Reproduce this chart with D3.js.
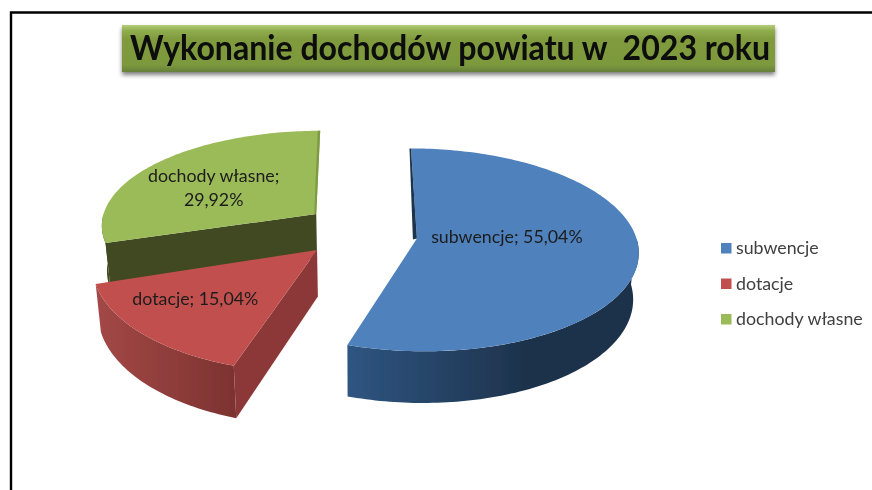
<!DOCTYPE html>
<html>
<head>
<meta charset="utf-8">
<style>
  html, body { margin: 0; padding: 0; background: #fff; overflow: hidden; }
  text { font-family: Lato, "Open Sans", sans-serif; }
</style>
<script src="https://d3js.org/d3.v7.min.js"></script>
</head>
<body>
<svg id="chart" width="872" height="490"></svg>
<script>
const categories = ['subwencje', 'dotacje', 'dochody własne'];
const values = [55.04, 15.04, 29.92];
const valueLabels = ['55,04%', '15,04%', '29,92%'];
const titleText = 'Wykonanie dochodów powiatu w  2023 roku';

const topColors = ['#4f81bd', '#c0504d', '#9bbb59'];
const wallLeft = ['#2f5581', '#a34846', '#3f4920'];
const wallRight = ['#1d324b', '#7d3331', '#3f4920'];
const faceColors = ['#1f3550', '#8d3937', '#3f4920'];

// floor plane seen in perspective, worked out from the slice edges
const VANISH_X = 358;
const VANISH_Y = -660;
const PLANE = 900;
const DEPTH = 1890;
const WALL = 46;
const WALL_LEAN = 0.98;

// where each pulled-out slice has its tip on the plane, and its reach
const tips = [[59, 3], [-40.5, -20.7], [-43, 56]];
const reachX = [220, 220, 219];
const reachZ = [211, 222, 205];
const labelFrac = [0.41, 0.71, 0.63];
const labelLift = [-8, -8, 7];

const svg = d3.select('#chart');
const defs = svg.append('defs');
const soft = defs.append('filter').attr('id', 'soft')
  .attr('filterUnits', 'userSpaceOnUse')
  .attr('x', 0).attr('y', 0)
  .attr('width', 872).attr('height', 490);
soft.append('feGaussianBlur').attr('stdDeviation', 0.55);

const root = svg.append('g').attr('filter', 'url(#soft)');
root.append('rect').attr('width', 872).attr('height', 490).attr('fill', '#fff');

// frame, cut off by the right and bottom of the picture
root.append('path')
  .attr('d', 'M11,492V12.5H874')
  .attr('fill', 'none')
  .attr('stroke', '#000')
  .attr('stroke-width', 2.4);

const color = d3.scaleOrdinal().domain(categories).range(topColors);

function project(X, Z, low) {
  const scale = 1 / (1 + Z / DEPTH);
  const k = low ? WALL_LEAN : 1;
  return [
    VANISH_X + X * scale * k,
    VANISH_Y + (PLANE + (low ? WALL : 0)) * scale,
  ];
}

function rim(i, angle, r, low) {
  return project(
    tips[i][0] + r * reachX[i] * Math.sin(angle),
    tips[i][1] + r * reachZ[i] * Math.cos(angle),
    low
  );
}

const line = d3.line();
const slices = d3.pie().sort(null)(values);

function arcPoints(i, a0, a1, low) {
  const n = Math.max(2, Math.ceil((a1 - a0) / 0.02));
  return d3.range(n + 1).map((j) => rim(i, a0 + (a1 - a0) * j / n, 1, low));
}

function wallGradient(i, x0, x1) {
  const g = defs.append('linearGradient')
    .attr('id', `wall${i}`)
    .attr('gradientUnits', 'userSpaceOnUse')
    .attr('x1', x0).attr('x2', x1).attr('y1', 0).attr('y2', 0);
  g.append('stop').attr('offset', 0).attr('stop-color', wallLeft[i]);
  g.append('stop').attr('offset', 1).attr('stop-color', wallRight[i]);
}

// painted back to front: green, red, blue
[2, 1, 0].forEach((i) => {
  const d = slices[i];
  const group = root.append('g').attr('class', 'slice').attr('data-name', categories[i]);

  const from = Math.max(d.startAngle, Math.PI / 2);
  const to = Math.min(d.endAngle, Math.PI * 1.5);
  const upper = arcPoints(i, from, to, false);
  const lower = arcPoints(i, from, to, true);
  const xs = upper.map((p) => p[0]);
  wallGradient(i, d3.min(xs), i === 0 ? VANISH_X + 170 : d3.max(xs));

  group.append('path')
    .attr('d', line(upper.concat(lower.reverse())) + 'Z')
    .attr('fill', `url(#wall${i})`);

  const apex = rim(i, 0, 0, false);

  // cut face toward the viewer: red and green show theirs
  if (i > 0) {
    const outer = rim(i, d.startAngle, 1, false);
    const outerLow = rim(i, d.startAngle, 1, true);
    const apexLow = rim(i, 0, 0, true);
    group.append('path')
      .attr('d', line([apex, outer, outerLow, apexLow]) + 'Z')
      .attr('fill', faceColors[i]);
  }

  group.append('path')
    .attr('d', line([apex].concat(arcPoints(i, d.startAngle, d.endAngle, false))) + 'Z')
    .attr('fill', color(categories[i]));

  // thin sliver along the back cut of blue and green
  if (i === 0) {
    const p = rim(i, d.startAngle, 1, false);
    group.append('path')
      .attr('d', line([p, apex, [apex[0] - 4, apex[1] + 1], [p[0] - 1.5, p[1]]]) + 'Z')
      .attr('fill', faceColors[0]);
  }
  if (i === 2) {
    const p = rim(i, d.endAngle, 1, false);
    group.append('path')
      .attr('d', line([p, apex, [apex[0] - 2, apex[1]], [p[0] - 2.5, p[1]]]) + 'Z')
      .attr('fill', '#7d9a45');
  }
});

// data labels
const labelLines = [
  [`${categories[0]}; ${valueLabels[0]}`],
  [`${categories[1]}; ${valueLabels[1]}`],
  [`${categories[2]};`, valueLabels[2]],
];
slices.forEach((d, i) => {
  const mid = (d.startAngle + d.endAngle) / 2;
  const p = rim(i, mid, labelFrac[i], false);
  const text = root.append('text')
    .attr('text-anchor', 'middle')
    .attr('font-size', 17.8)
    .attr('fill', '#1c1c1c');
  labelLines[i].forEach((t, j) => {
    text.append('tspan')
      .attr('x', p[0])
      .attr('y', p[1] + labelLift[i] + 6 + (j - (labelLines[i].length - 1) / 2) * 24)
      .text(t);
  });
});

// title box
const titleFill = defs.append('linearGradient').attr('id', 'titleFill')
  .attr('x1', 0).attr('x2', 0).attr('y1', 0).attr('y2', 1);
[[0, '#b4cd7e'], [0.12, '#90ad4e'], [0.3, '#7f9b3d'], [0.85, '#7d993c'], [1, '#66803a']]
  .forEach(([o, c]) => titleFill.append('stop').attr('offset', o).attr('stop-color', c));
const shadow = defs.append('filter').attr('id', 'titleShadow')
  .attr('x', '-5%').attr('y', '-20%').attr('width', '110%').attr('height', '150%');
shadow.append('feDropShadow')
  .attr('dx', 0).attr('dy', 3).attr('stdDeviation', 2)
  .attr('flood-color', '#000').attr('flood-opacity', 0.5);

root.append('rect')
  .attr('x', 122).attr('y', 25).attr('width', 653).attr('height', 47)
  .attr('fill', 'url(#titleFill)')
  .attr('filter', 'url(#titleShadow)');
root.append('text')
  .attr('x', 450).attr('y', 60)
  .attr('text-anchor', 'middle')
  .attr('font-size', 34)
  .attr('font-weight', 700)
  .attr('textLength', 640)
  .attr('lengthAdjust', 'spacingAndGlyphs')
  .style('white-space', 'pre')
  .attr('fill', '#0a0a0a')
  .text(titleText);

// legend
const legendY = d3.scalePoint().domain(categories).range([248, 319]);
const legend = root.append('g').selectAll('g')
  .data(categories)
  .enter()
    .append('g')
    .attr('transform', (c) => `translate(721,${legendY(c)})`);
legend.append('rect')
  .attr('x', 0).attr('y', -5)
  .attr('width', 10.5).attr('height', 10.5)
  .attr('fill', (c) => color(c));
legend.append('text')
  .attr('x', 15).attr('y', 6)
  .attr('font-size', 17.8)
  .attr('fill', '#404040')
  .text((c) => c);
</script>
</body>
</html>
